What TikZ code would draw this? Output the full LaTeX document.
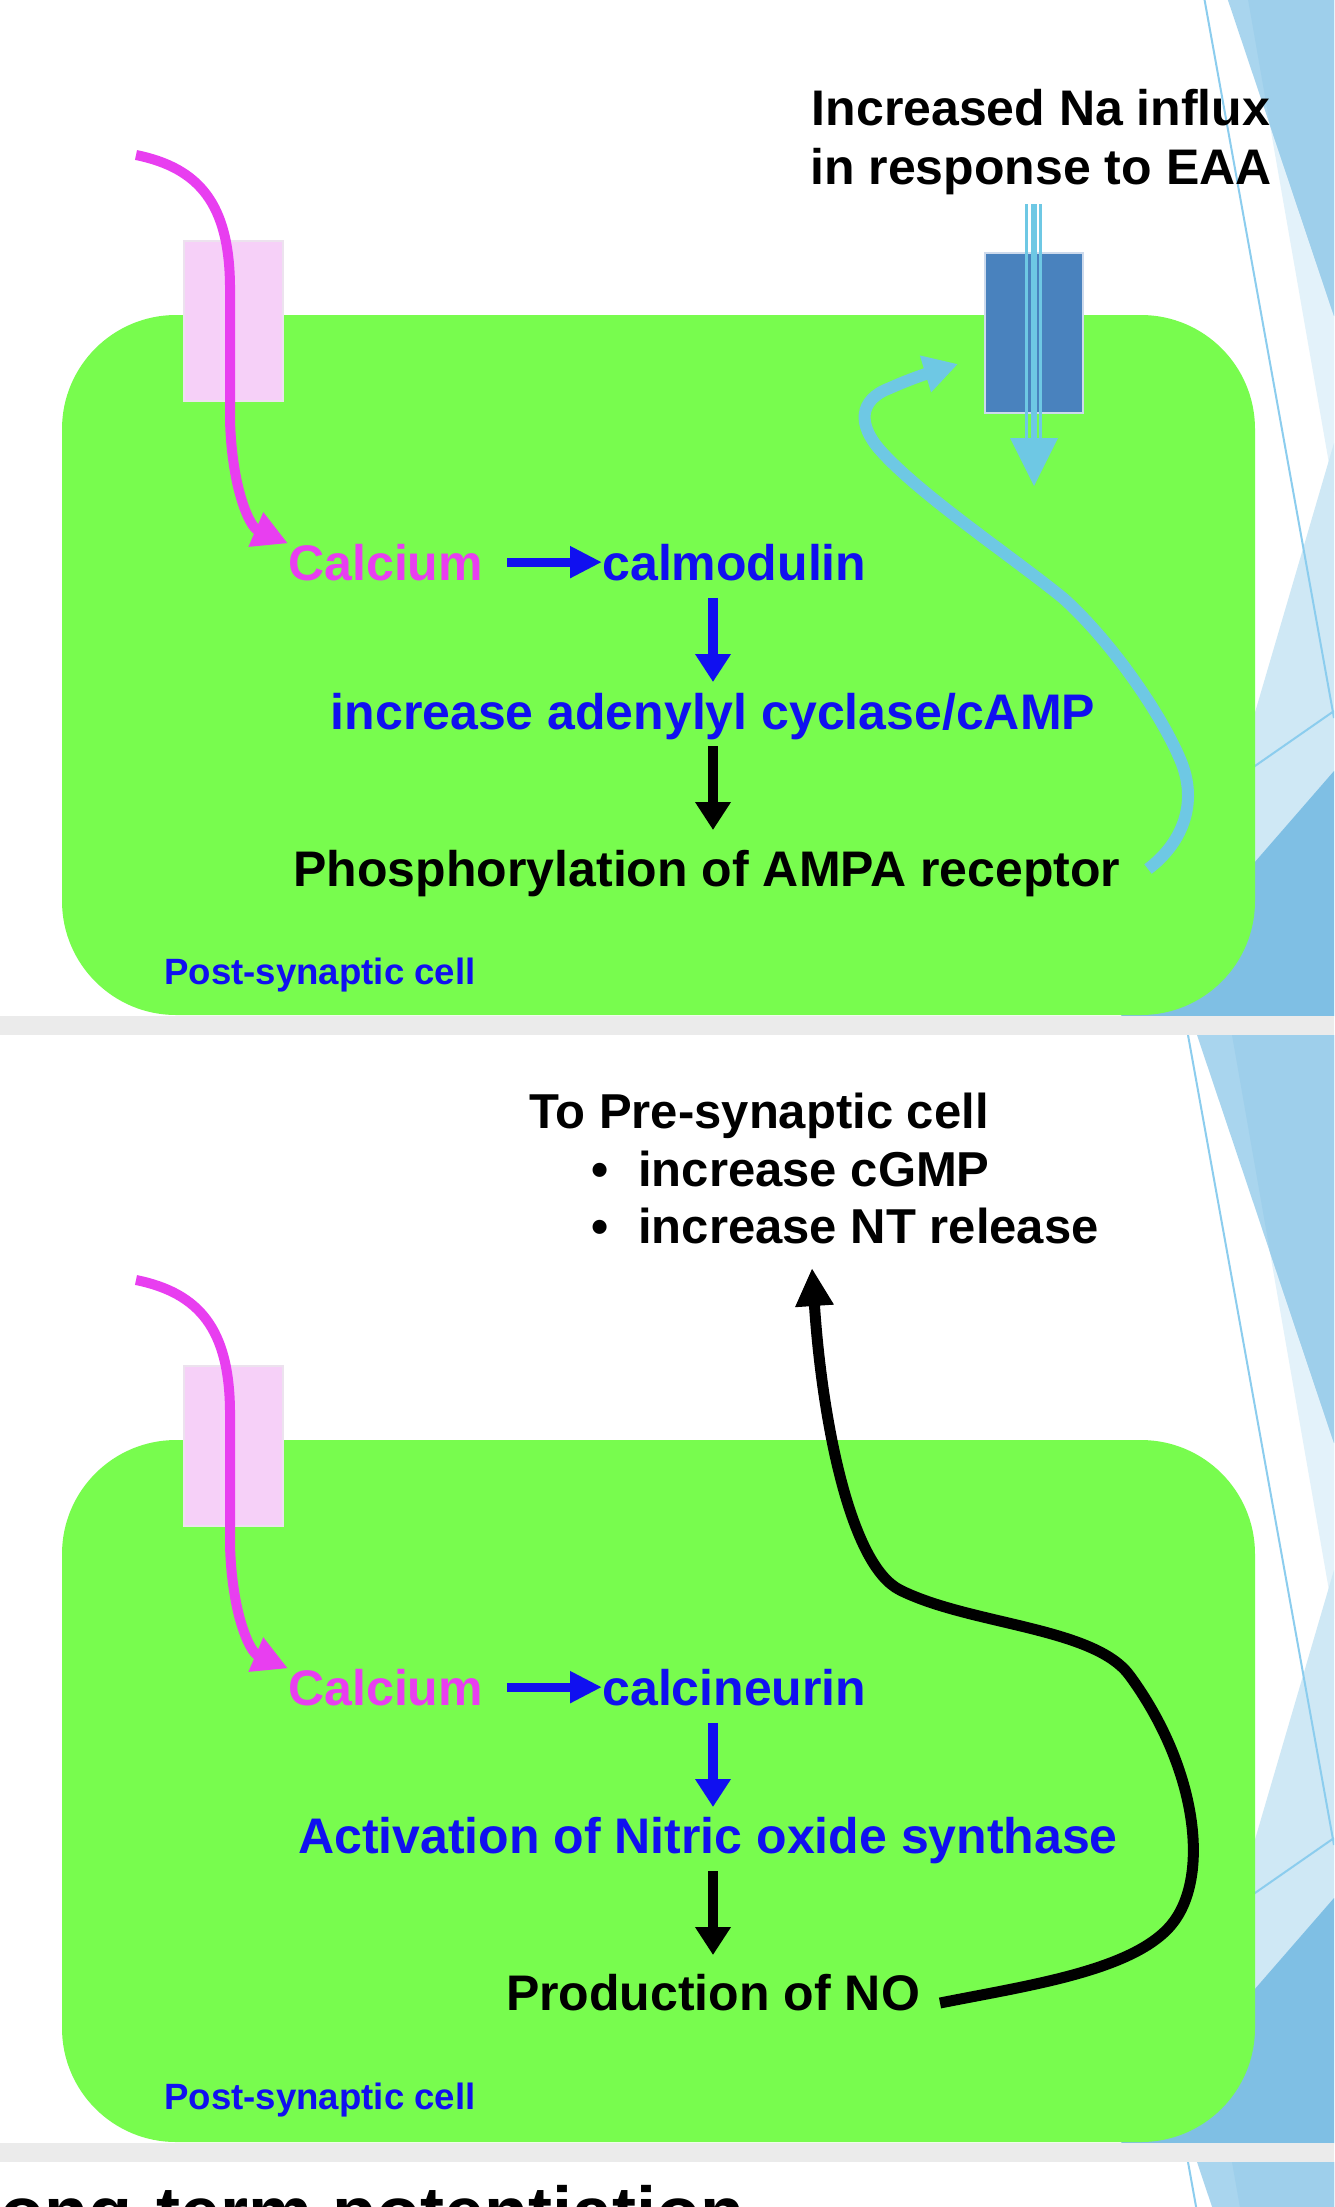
\documentclass[tikz,border=0pt]{standalone}
\usepackage{fontspec}
\setmainfont{Liberation Sans}
\usetikzlibrary{arrows.meta}
\definecolor{cellgreen}{RGB}{120,252,78}
\definecolor{magen}{RGB}{232,62,240}
\definecolor{pinkch}{RGB}{246,208,248}
\definecolor{pinkedge}{RGB}{236,226,238}
\definecolor{chblue}{RGB}{73,130,190}
\definecolor{chedge}{RGB}{205,218,236}
\definecolor{skyarrow}{RGB}{110,200,228}
\definecolor{txtblue}{RGB}{16,16,240}
\definecolor{bandgray}{RGB}{235,235,235}
\definecolor{decoA}{RGB}{169,213,238}
\definecolor{decoB}{RGB}{227,242,250}
\definecolor{decoAB}{RGB}{158,207,235}
\definecolor{decoC}{RGB}{207,232,245}
\definecolor{decoD}{RGB}{127,191,228}
\definecolor{decoLine}{RGB}{140,205,238}
\begin{document}
\begin{tikzpicture}[x=0.5pt,y=-0.5pt,
  txt/.style={inner sep=0pt, font=\fontsize{25pt}{30pt}\selectfont\bfseries},
  smalltxt/.style={inner sep=0pt, font=\fontsize{18.3pt}{22pt}\selectfont\bfseries, text=txtblue},
  pretxt/.style={inner sep=0pt, font=\fontsize{24.5pt}{29pt}\selectfont\bfseries},
  titletxt/.style={inner sep=0pt, font=\fontsize{36pt}{44pt}\selectfont\bfseries},
  cell/.style={fill=cellgreen, rounded corners=57pt},
  cachannel/.style={fill=pinkch, draw=pinkedge, line width=0.6pt},
  nachannel/.style={fill=chblue, draw=chedge, line width=0.6pt},
  maglink/.style={draw=magen, line width=5pt, -{Triangle[length=17.5pt,width=17.5pt]}},
  skylink/.style={draw=skyarrow, line width=6pt, -{Triangle[length=17pt,width=18pt]}},
  nolink/.style={draw=black, line width=5.5pt, -{Triangle[length=19pt,width=18pt]}},
  hblue/.style={draw=txtblue, line width=4.5pt, -{Triangle[length=16pt,width=15pt]}},
  vblue/.style={draw=txtblue, line width=5pt, -{Triangle[length=14pt,width=17pt]}},
  vblack/.style={draw=black, line width=5pt, -{Triangle[length=14pt,width=17pt]}},
  decoline/.style={draw=decoLine, line width=1pt},
]
\useasboundingbox (0,0) rectangle (1334,2207);
\clip (0,0) rectangle (1334,2207);
\fill[white] (0,0) rectangle (1334,2207);

% slide decorations
\foreach \T in {-92,1035,2162}{
  \begin{scope}[shift={(0,\T)}]
    \fill[decoB] (1232,0) -- (1334,0) -- (1334,584) -- cycle;
    \fill[decoA] (1197,0) -- (1334,0) -- (1334,408) -- cycle;
    \fill[decoAB] (1232,0) -- (1334,0) -- (1334,408) -- (1270,217) -- cycle;
    \fill[decoC] (1334,535) -- (1334,1108) -- (1166,1108) -- cycle;
    \fill[decoD] (1334,863) -- (1334,1108) -- (1121,1108) -- cycle;
    \draw[decoline] (1188,0) -- (1334,810);
    \draw[decoline] (1150,931) -- (1334,803);
  \end{scope}
}
\fill[bandgray] (0,1016) rectangle (1334,1035);
\fill[bandgray] (0,2143) rectangle (1334,2162);

% ================= slide 1 =================
\fill[cell] (62,315) rectangle (1255,1015);
\draw[cachannel] (184,241) rectangle (283,401);
\draw[nachannel] (985,253) rectangle (1083,413);

\node[txt, anchor=base] (na1) at (1041,125) {Increased Na influx};
\node[txt, anchor=base] (na2) at (1041,184) {in response to EAA};
\node[txt, anchor=base west, text=magen] (ca1) at (288,580) {Calcium};
\node[txt, anchor=base west, text=txtblue] (cam) at (602,580) {calmodulin};
\node[txt, anchor=base, text=txtblue] (cyc) at (713,729) {increase adenylyl cyclase/cAMP};
\node[txt, anchor=base] (pho) at (707,886) {Phosphorylation of AMPA receptor};
\node[smalltxt, anchor=base west] (post1) at (164,984) {Post-synaptic cell};

% Na influx arrow through channel
\coordinate (naTop) at (1034,204);
\coordinate (naBase) at (1034,440);
\draw[skyarrow, line width=1.5pt] ([xshift=-3.75pt]naTop) -- ([xshift=-3.75pt]naBase);
\draw[skyarrow, line width=1.5pt] ([xshift=3.25pt]naTop) -- ([xshift=3.25pt]naBase);
\draw[skyarrow, line width=3pt] (naTop) -- (naBase);
\fill[skyarrow] (1010,438) -- (1058,438) -- (1034,486) -- cycle;

% calcium entry
\coordinate (caIn1) at (136,155);
\draw[maglink] (caIn1) .. controls (200,168) and (229,205) .. (230,285) -- (230,420)
  .. controls (232,490) and (250,527) .. (ca1.north west);

% cascade arrows
\draw[hblue, shorten <=12pt] (ca1.east) -- (cam.west);
\coordinate (v1a) at (713,598);
\coordinate (v1b) at (713,682);
\draw[vblue] (v1a) -- (v1b);
\coordinate (v2a) at (713,746);
\coordinate (v2b) at (713,830);
\draw[vblack] (v2a) -- (v2b);

% AMPA feedback curve
\coordinate (ampaStart) at (1148,869);
\coordinate (ampaTip) at (958,364);
\draw[skylink] (ampaStart) .. controls (1180,845) and (1200,805) .. (1180,759)
  .. controls (1160,712) and (1110,640) .. (1063,598)
  .. controls (1010,555) and (920,495) .. (880,450)
  .. controls (858,425) and (858,400) .. (890,388)
  .. controls (912,378) and (935,371) .. (ampaTip);

% ================= slide 2 =================
\fill[cell] (62,1440) rectangle (1255,2142);
\draw[cachannel] (184,1366) rectangle (283,1526);

\node[pretxt, anchor=base west] (to1) at (529,1128) {To Pre-synaptic cell};
\node[pretxt, anchor=base west] (to2) at (591,1186) {\textbullet\hspace{14.9pt}increase cGMP};
\node[pretxt, anchor=base west] (to3) at (591,1243) {\textbullet\hspace{14.9pt}increase NT release};
\node[txt, anchor=base west, text=magen] (ca2) at (288,1705) {Calcium};
\node[txt, anchor=base west, text=txtblue] (cal) at (602,1705) {calcineurin};
\node[txt, anchor=base, text=txtblue] (nos) at (708,1853) {Activation of Nitric oxide synthase};
\node[txt, anchor=base] (no) at (713,2010) {Production of NO};
\node[smalltxt, anchor=base west] (post2) at (164,2109) {Post-synaptic cell};

\coordinate (caIn2) at (136,1280);
\draw[maglink] (caIn2) .. controls (200,1293) and (229,1330) .. (230,1410) -- (230,1545)
  .. controls (232,1615) and (250,1652) .. (ca2.north west);

\draw[hblue, shorten <=12pt] (ca2.east) -- (cal.west);
\coordinate (v3a) at (713,1723);
\coordinate (v3b) at (713,1807);
\draw[vblue] (v3a) -- (v3b);
\coordinate (v4a) at (713,1871);
\coordinate (v4b) at (713,1955);
\draw[vblack] (v4a) -- (v4b);

% NO retrograde curve
\coordinate (noStart) at (940,2003);
\coordinate (noTip) at (812,1268);
\draw[nolink] (noStart) .. controls (1030,1985) and (1140,1970) .. (1175,1920)
  .. controls (1210,1870) and (1195,1765) .. (1130,1676)
  .. controls (1095,1627) and (970,1625) .. (900,1590)
  .. controls (850,1565) and (822,1420) .. (noTip);

% ================= slide 3 (title, cut off) =================
\node[titletxt, anchor=base west] (title) at (-44,2237) {Long-term potentiation};
\end{tikzpicture}
\end{document}
